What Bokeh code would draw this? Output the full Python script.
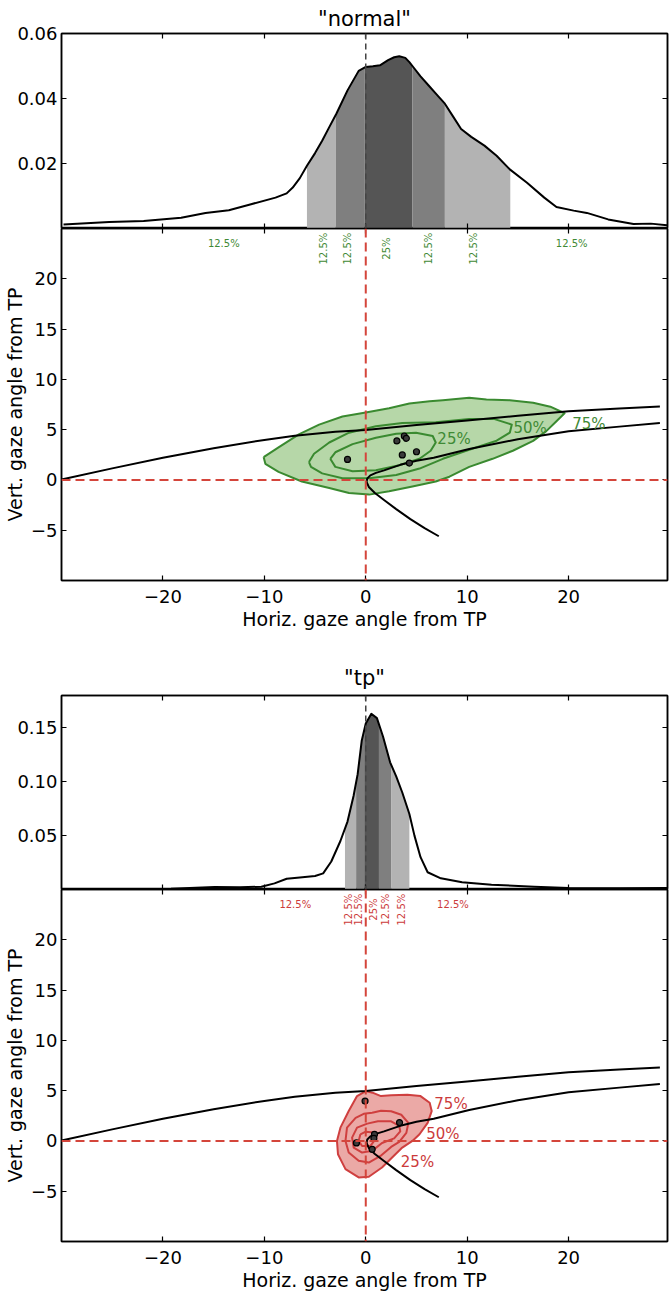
import numpy as np
from bokeh.plotting import figure
from bokeh.models import (Range1d, LinearAxis, FixedTicker, Span, NumeralTickFormatter,
                          CustomLabelingPolicy)
from bokeh.layouts import column
from bokeh.core.properties import value
from bokeh.embed import file_html
from bokeh.resources import INLINE

FONT = "DejaVu Sans"
FONT_VALUE = value(FONT)

# ---------------- data ----------------
# density of horizontal gaze angle, condition "normal"
kde1_x = [-29.8, -25.3, -21.9, -18.2, -15.8, -13.5, -11.4, -8.9, -7.8, -7.2, -6.5, -5.8, -5.0, -4.3, -3.6,
          -2.9, -1.8, -0.7, 0.0, 0.7, 1.4, 2.2, 2.8, 3.3, 3.9, 4.3, 4.6, 5.4, 6.2, 7.0, 7.8, 8.6, 9.4,
          10.4, 11.7, 12.9, 14.2, 15.9, 17.6, 18.8, 20.5, 21.8, 23.9, 26.4, 28.1, 29.7]
kde1_y = [0.0012, 0.0020, 0.0023, 0.0033, 0.0048, 0.0056, 0.0074, 0.0095, 0.0108, 0.0126, 0.0155, 0.0193,
          0.0232, 0.0270, 0.0312, 0.0353, 0.0425, 0.0485, 0.0497, 0.0499, 0.0502, 0.0518, 0.0527, 0.0530,
          0.0525, 0.0512, 0.0500, 0.0468, 0.0440, 0.0412, 0.0384, 0.0345, 0.0306, 0.0282, 0.0255, 0.0224,
          0.0182, 0.0141, 0.0095, 0.0066, 0.0055, 0.0048, 0.0028, 0.0014, 0.0015, 0.0010]
kde1_bounds = [-5.8, -2.95, -0.1, 4.6, 7.8, 14.25]

# density of horizontal gaze angle, condition "tp"
kde2_x = [-29.9, -19.2, -14.9, -12.4, -10.3, -9.0, -7.8, -6.5, -5.0, -4.2, -3.4, -2.5, -1.8, -1.2, -0.8,
          -0.4, 0.0, 0.55, 1.1, 1.7, 2.4, 3.0, 3.6, 4.3, 4.8, 5.4, 6.1, 7.4, 9.5, 12.4, 16.6, 20.0, 25.0, 29.7]
kde2_y = [0.0005, 0.0008, 0.0024, 0.0020, 0.0026, 0.0057, 0.0100, 0.0112, 0.0125, 0.0150, 0.0260, 0.0450,
          0.0630, 0.0870, 0.1070, 0.1380, 0.1540, 0.1630, 0.1590, 0.1420, 0.1180, 0.1050, 0.0900, 0.0700,
          0.0500, 0.0300, 0.0160, 0.0104, 0.0067, 0.0045, 0.0026, 0.0014, 0.0011, 0.0014]
kde2_bounds = [-2.05, -0.95, -0.15, 1.3, 2.5, 4.3]

band_colors = ["#b3b3b3", "#7f7f7f", "#555555", "#7f7f7f", "#b3b3b3"]

# percentage labels under the density plots
pct_rot_text = ["12.5%", "12.5%", "25%", "12.5%", "12.5%"]
pct_out_text = ["12.5%", "12.5%"]
pct1_rot_x = [-4.2, -1.8, 2.05, 6.2, 10.6]
pct1_out_x = [-14.0, 20.3]
pct2_rot_x = [-1.73, -0.74, 0.78, 1.97, 3.55]
pct2_out_x = [-6.95, 8.6]

# reference curves (same in both panels)
curveA_x = [-30, -25, -20, -15, -10, -7, -3, 0, 5, 10, 15, 20, 25, 29]
curveA_y = [0.05, 1.15, 2.2, 3.15, 3.98, 4.4, 4.78, 4.97, 5.45, 5.9, 6.37, 6.83, 7.1, 7.3]
curveB_x = [7.2, 5.8, 4.4, 3.0, 1.8, 0.9, 0.3, 0.08, 0.15, 0.45, 1.0, 1.8, 3.4, 5.0, 6.7, 10.2, 15, 20, 25, 29]
curveB_y = [-5.6, -4.8, -3.9, -2.9, -2.0, -1.3, -0.7, -0.2, 0.15, 0.45, 0.7, 0.95, 1.5, 1.9, 2.2, 3.07, 4.05,
            4.85, 5.3, 5.65]

# contours, condition "normal"
n75_x = [-10.07, -8.6, -6.6, -4.6, -2.3, 0, 2.3, 4.3, 6.3, 7.6, 10.2, 11.9, 14.2, 16.5, 18.2, 19.6, 18.8,
         17.8, 16.5, 14.5, 12.5, 10.2, 8.25, 6.9, 4.6, 2.3, 0.33, -1.65, -3.6, -6.3, -8.6, -9.9]
n75_y = [2.27, 3.24, 4.53, 5.5, 6.3, 6.7, 7.12, 7.6, 7.83, 7.93, 8.16, 8.0, 7.93, 7.67, 7.28, 6.63, 5.83,
         4.85, 3.88, 2.9, 2.1, 1.3, 0.32, -0.16, -0.65, -1.13, -1.46, -1.3, -0.8, -0.16, 0.8, 1.6]
n50_x = [-5.6, -5.1, -3.6, -1.65, 1.0, 3.6, 6.9, 10.2, 12.7, 14.4, 14.2, 12.9, 10.2, 7.6, 5.3, 3.0, 0.33,
         -2.3, -4.3, -5.4]
n50_y = [1.78, 2.6, 3.72, 4.7, 5.34, 5.66, 5.73, 6.05, 6.05, 5.5, 4.7, 3.9, 3.0, 2.1, 1.13, 0.49, 0.16,
         0.16, 0.65, 1.3]
n25_x = [-3.5, -3.0, -1.3, 1.0, 3.0, 4.95, 6.6, 6.9, 6.4, 5.3, 3.3, 1.0, -1.3, -3.0]
n25_y = [2.1, 2.75, 3.56, 4.2, 4.6, 4.7, 4.37, 3.72, 2.9, 2.1, 1.46, 0.97, 0.87, 1.3]
n_pts_x = [-1.8, 3.07, 3.8, 4.0, 3.6, 5.0, 4.3]
n_pts_y = [2.04, 3.88, 4.37, 4.14, 2.49, 2.8, 1.68]
n_lab_text = ["25%", "50%", "75%"]
n_lab_x = [8.7, 16.2, 22.0]
n_lab_y = [4.1, 5.18, 5.57]

# contours, condition "tp"
t75_x = [0, 0.66, 1.5, 2.5, 4.1, 5.4, 6.3, 6.5, 6.1, 5.3, 4.6, 3.6, 2.6, 1.6, 0.3, -0.7, -2.0, -2.74,
         -2.84, -2.5, -1.68, -0.86]
t75_y = [4.95, 4.8, 4.46, 4.55, 4.6, 4.46, 3.8, 2.97, 1.8, 0.66, 0.0, -0.66, -1.65, -2.64, -3.56, -3.63,
         -2.8, -1.32, 0.0, 1.32, 2.97, 4.46]
t50_x = [0.63, 1.5, 2.5, 3.5, 4.2, 4.0, 3.3, 2.5, 1.45, 0.3, -0.7, -1.68, -2.0, -1.85, -1.0, -0.2]
t50_y = [2.8, 3.0, 2.95, 2.6, 1.8, 0.8, -0.1, -0.6, -1.49, -2.15, -1.98, -1.15, 0.0, 1.32, 2.3, 2.7]
t25_x = [0.15, 1.2, 2.5, 3.3, 3.4, 2.8, 1.6, 0.63, -0.36, -1.19, -1.35, -0.86]
t25_y = [1.72, 1.95, 1.95, 1.5, 0.95, 0.25, -0.2, -0.99, -1.16, -0.66, 0.33, 1.32]
t10_x = [-0.53, 0.0, 0.8, 0.96, 0.46, -0.36, -0.7]
t10_y = [0.66, 0.92, 0.83, 0.17, -0.5, -0.5, 0.0]
t_pts_x = [-0.07, 3.33, 0.86, 0.8, -0.92, 0.63]
t_pts_y = [3.96, 1.82, 0.66, 0.26, -0.2, -0.83]
t_lab_text = ["75%", "50%", "25%"]
t_lab_x = [8.4, 7.6, 5.1]
t_lab_y = [3.7, 0.66, -2.07]

X_RANGE = (-30, 29.75)
X_TICKS = [-20, -10, 0, 10, 20]
MINUS = "\u2212"


def style_axis(ax, labels=True, size="18px", standoff=4):
    ax.major_tick_in = 5
    ax.major_tick_out = 0
    ax.minor_tick_line_color = None
    ax.axis_line_width = 1.5
    ax.axis_line_color = "black"
    ax.major_tick_line_width = 1.2
    ax.major_label_text_font = FONT
    ax.major_label_text_color = "black"
    if labels:
        ax.major_label_text_font_size = size
        ax.major_label_standoff = standoff
    else:
        ax.major_label_text_font_size = "0px"
        ax.major_label_standoff = 0
        ax.major_label_policy = CustomLabelingPolicy(code="return new Set()")


def base_fig(height, yr, top_border, bottom_border):
    p = figure(width=669, height=height, x_range=Range1d(*X_RANGE), y_range=Range1d(*yr),
               output_backend="svg", toolbar_location=None,
               min_border_left=60, min_border_right=2, min_border_top=top_border,
               min_border_bottom=bottom_border)
    p.grid.visible = False
    p.outline_line_color = "black"
    p.outline_line_width = 1.5
    p.background_fill_color = "white"
    p.border_fill_color = "white"
    return p


def add_box_axes(p, yticks):
    top = LinearAxis(ticker=FixedTicker(ticks=X_TICKS))
    style_axis(top, labels=False)
    p.add_layout(top, "above")
    right = LinearAxis(ticker=FixedTicker(ticks=yticks))
    style_axis(right, labels=False)
    p.add_layout(right, "right")


def kde_fig(title, kx, ky, bounds, ymax, yticks, height, top_border, title_standoff):
    p = base_fig(height, (0, ymax), top_border, 0)
    p.title.text = title
    p.title.align = "center"
    p.title.text_font = FONT
    p.title.text_font_size = "21px"
    p.title.text_font_style = "normal"
    p.title.text_color = "black"
    p.title.standoff = title_standoff
    kx = np.array(kx)
    ky = np.array(ky)
    for i in range(len(bounds) - 1):
        a, b = bounds[i], bounds[i + 1]
        inside = (kx > a) & (kx < b)
        xs = np.concatenate([[a], kx[inside], [b]])
        ys = np.interp(xs, kx, ky)
        p.varea(x=xs, y1=0, y2=ys, fill_color=band_colors[i], fill_alpha=1.0)
    p.line(kx, ky, line_color="black", line_width=2, line_join="round")
    p.add_layout(Span(location=0, dimension="height", line_color="#444444", line_dash="6 4", line_width=1.5))
    p.xaxis.ticker = FixedTicker(ticks=X_TICKS)
    style_axis(p.xaxis[0], labels=False)
    p.yaxis.ticker = FixedTicker(ticks=yticks)
    p.yaxis.formatter = NumeralTickFormatter(format="0.00")
    style_axis(p.yaxis[0], labels=True)
    add_box_axes(p, yticks)
    return p


def scatter_fig(height, bottom_border, cont, fill_color, line_color, text_color, pts, labs,
                rot_x, out_x):
    p = base_fig(height, (-10, 25), 0, bottom_border)
    yticks = [-5, 0, 5, 10, 15, 20]
    p.xaxis.ticker = FixedTicker(ticks=X_TICKS)
    p.xaxis.major_label_overrides = {-20: MINUS + "20", -10: MINUS + "10"}
    p.yaxis.ticker = FixedTicker(ticks=yticks)
    p.yaxis.major_label_overrides = {-5: MINUS + "5"}
    style_axis(p.xaxis[0], standoff=9)
    style_axis(p.yaxis[0])
    p.xaxis.axis_label = "Horiz. gaze angle from TP"
    p.yaxis.axis_label = "Vert. gaze angle from TP"
    for ax in (p.xaxis[0], p.yaxis[0]):
        ax.axis_label_text_font = FONT
        ax.axis_label_text_font_size = "19px"
        ax.axis_label_text_font_style = "normal"
        ax.axis_label_text_color = "black"
        ax.axis_label_standoff = 2
    add_box_axes(p, yticks)

    # filled outer contour and contour lines
    ox, oy = cont[0]
    p.patch(ox, oy, fill_color=fill_color, fill_alpha=1.0, line_color=None)
    for cx, cy in cont:
        p.line(list(cx) + [cx[0]], list(cy) + [cy[0]], line_color=line_color, line_width=2,
               line_join="round")

    p.add_layout(Span(location=0, dimension="height", line_color="#d4453b", line_dash="9 5", line_width=2))
    p.add_layout(Span(location=0, dimension="width", line_color="#d4453b", line_dash="9 5", line_width=2))

    p.line(curveA_x, curveA_y, line_color="black", line_width=2, line_join="round")
    p.line(curveB_x, curveB_y, line_color="black", line_width=2, line_join="round")

    px, py = pts
    p.scatter(px, py, size=6, fill_color="#3a3a3a", line_color="black", line_width=1.2)

    lt, lx, ly = labs
    p.text(x=lx, y=ly, text=lt, text_color=text_color, text_font_size="15px",
           text_align="center", text_baseline="middle", text_font=FONT_VALUE)

    p.text(x=rot_x, y=[23.0] * len(rot_x), text=pct_rot_text, angle=np.pi / 2,
           text_color=text_color, text_font_size="10px", text_align="center",
           text_baseline="middle", text_font=FONT_VALUE)
    p.text(x=out_x, y=[23.5] * len(out_x), text=pct_out_text,
           text_color=text_color, text_font_size="10px", text_align="center",
           text_baseline="middle", text_font=FONT_VALUE)
    return p


p1 = kde_fig('"normal"', kde1_x, kde1_y, kde1_bounds, 0.06, [0.02, 0.04, 0.06], 228, 33, 5)
p2 = scatter_fig(417, 65,
                 [(n75_x, n75_y), (n50_x, n50_y), (n25_x, n25_y)],
                 "#b6d7a8", "#3a8a30", "#3f8a35",
                 (n_pts_x, n_pts_y), (n_lab_text, n_lab_x, n_lab_y), pct1_rot_x, pct1_out_x)
p3 = kde_fig('"tp"', kde2_x, kde2_y, kde2_bounds, 0.18, [0.05, 0.10, 0.15], 244, 50, 12)
p4 = scatter_fig(410, 58,
                 [(t75_x, t75_y), (t50_x, t50_y), (t25_x, t25_y), (t10_x, t10_y)],
                 "#eba9a6", "#cf3f3f", "#cc3b3b",
                 (t_pts_x, t_pts_y), (t_lab_text, t_lab_x, t_lab_y), pct2_rot_x, pct2_out_x)

layout = column(p1, p2, p3, p4, spacing=0)
open("out.html", "w").write(file_html(layout, INLINE))
